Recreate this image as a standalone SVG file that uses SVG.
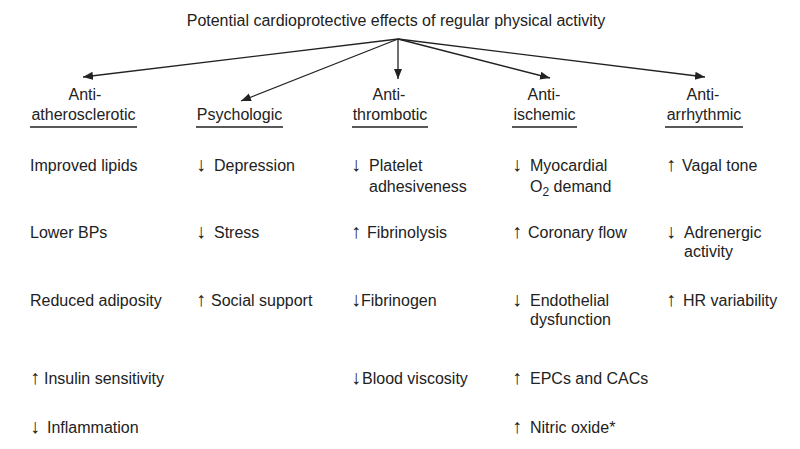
<svg xmlns="http://www.w3.org/2000/svg" width="800" height="449" viewBox="0 0 800 449">
<style>
text{font-family:"Liberation Sans",Arial,sans-serif;font-size:16px;fill:#222}
.c{text-anchor:middle}
.a{font-size:20px}
.ul{stroke:#222;stroke-width:1.3}
.conn{stroke:#222;stroke-width:1.3;fill:none}
</style>
<defs>
<marker id="ah" viewBox="0 0 10 10" refX="10" refY="5" markerWidth="10" markerHeight="10" markerUnits="userSpaceOnUse" orient="auto">
<path d="M0,1 L10,5 L0,9 Z" fill="#222"/>
</marker>
</defs>
<rect width="800" height="449" fill="#fff"/>
<g id="title"><text class="c" x="396" y="26">Potential cardioprotective effects of regular physical activity</text></g>
<g id="connectors">
<line class="conn" x1="398" y1="39" x2="83" y2="77" marker-end="url(#ah)"/>
<line class="conn" x1="398" y1="39" x2="241" y2="101" marker-end="url(#ah)"/>
<line class="conn" x1="398" y1="39" x2="398" y2="79" marker-end="url(#ah)"/>
<line class="conn" x1="398" y1="39" x2="550" y2="78" marker-end="url(#ah)"/>
<line class="conn" x1="398" y1="39" x2="705" y2="77" marker-end="url(#ah)"/>
</g>
<g id="col-atherosclerotic">
<text class="c" x="85" y="100">Anti-</text>
<text class="c" x="83.5" y="120">atherosclerotic</text>
<line class="ul" x1="30" y1="127" x2="137" y2="127"/>
<text x="30" y="171">Improved lipids</text>
<text x="30" y="238">Lower BPs</text>
<text x="30" y="306">Reduced adiposity</text>
<text y="384"><tspan class="a" x="30">↑</tspan><tspan x="44">Insulin sensitivity</tspan></text>
<text y="433"><tspan class="a" x="30">↓</tspan><tspan x="47">Inflammation</tspan></text>
</g>
<g id="col-psychologic">
<text class="c" x="239.5" y="120">Psychologic</text>
<line class="ul" x1="196" y1="127" x2="283" y2="127"/>
<text y="171"><tspan class="a" x="196">↓</tspan><tspan x="214">Depression</tspan></text>
<text y="238"><tspan class="a" x="196">↓</tspan><tspan x="214">Stress</tspan></text>
<text y="306"><tspan class="a" x="196">↑</tspan><tspan x="211">Social support</tspan></text>
</g>
<g id="col-thrombotic">
<text class="c" x="389" y="100">Anti-</text>
<text class="c" x="390" y="120">thrombotic</text>
<line class="ul" x1="352" y1="127" x2="428" y2="127"/>
<text y="171"><tspan class="a" x="351">↓</tspan><tspan x="369">Platelet</tspan></text>
<text x="369" y="192">adhesiveness</text>
<text y="238"><tspan class="a" x="351">↑</tspan><tspan x="367">Fibrinolysis</tspan></text>
<text y="306"><tspan class="a" x="351">↓</tspan><tspan x="361">Fibrinogen</tspan></text>
<text y="384"><tspan class="a" x="351">↓</tspan><tspan x="362">Blood viscosity</tspan></text>
</g>
<g id="col-ischemic">
<text class="c" x="544" y="100">Anti-</text>
<text class="c" x="544.5" y="120">ischemic</text>
<line class="ul" x1="512" y1="127" x2="577" y2="127"/>
<text y="171"><tspan class="a" x="512">↓</tspan><tspan x="530">Myocardial</tspan></text>
<text x="530" y="192">O<tspan font-size="12" dy="4">2</tspan><tspan dy="-4"> demand</tspan></text>
<text y="238"><tspan class="a" x="512">↑</tspan><tspan x="528">Coronary flow</tspan></text>
<text y="306"><tspan class="a" x="512">↓</tspan><tspan x="530">Endothelial</tspan></text>
<text x="530" y="325">dysfunction</text>
<text y="384"><tspan class="a" x="512">↑</tspan><tspan x="530">EPCs and CACs</tspan></text>
<text y="433"><tspan class="a" x="512">↑</tspan><tspan x="530">Nitric oxide*</tspan></text>
</g>
<g id="col-arrhythmic">
<text class="c" x="703" y="100">Anti-</text>
<text class="c" x="704" y="120">arrhythmic</text>
<line class="ul" x1="665" y1="127" x2="743" y2="127"/>
<text y="171"><tspan class="a" x="666">↑</tspan><tspan x="682">Vagal tone</tspan></text>
<text y="238"><tspan class="a" x="666">↓</tspan><tspan x="684">Adrenergic</tspan></text>
<text x="684" y="257">activity</text>
<text y="306"><tspan class="a" x="666">↑</tspan><tspan x="683">HR variability</tspan></text>
</g>
</svg>
